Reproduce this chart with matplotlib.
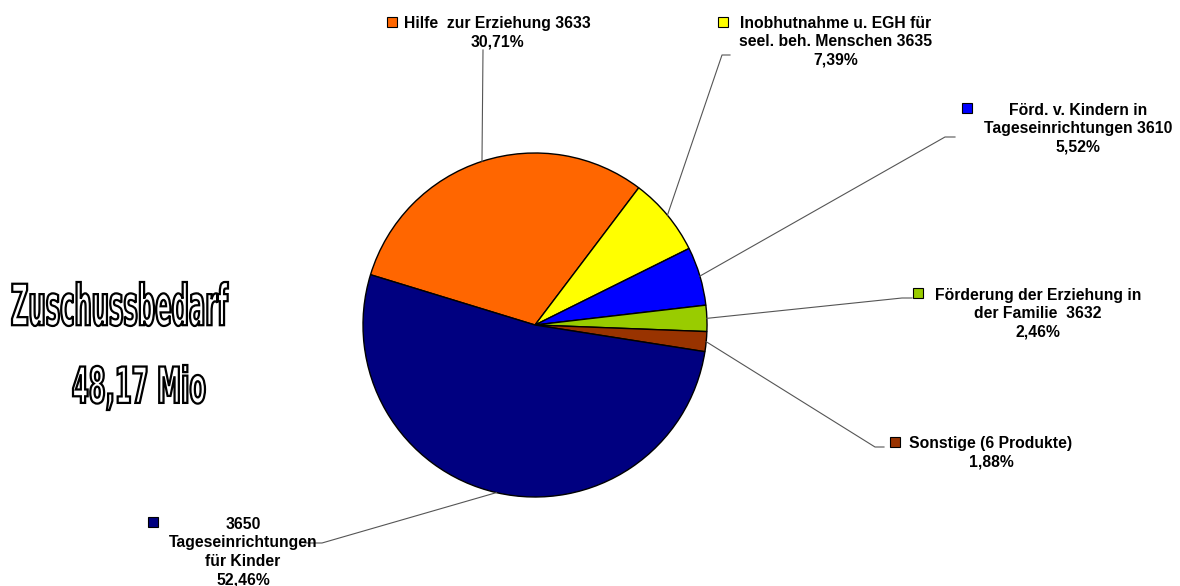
import matplotlib
matplotlib.use("Agg")
import numpy as np
import matplotlib.pyplot as plt
from matplotlib.textpath import TextPath
from matplotlib.patches import PathPatch
from matplotlib.font_manager import FontProperties, findfont
from matplotlib.transforms import Affine2D

# data
labels = [
    "Hilfe  zur Erziehung 3633",
    "Inobhutnahme u. EGH für\nseel. beh. Menschen 3635",
    "Förd. v. Kindern in\nTageseinrichtungen 3610",
    "Förderung der Erziehung in\nder Familie  3632",
    "Sonstige (6 Produkte)",
    "3650\nTageseinrichtungen\nfür Kinder",
]
shares = [30.71, 7.39, 5.52, 2.46, 1.88, 52.46]
colors = ["#FF6600", "#FFFF00", "#0000FF", "#99CC00", "#993300", "#000080"]
title_lines = ["Zuschussbedarf", "48,17 Mio"]

W, H = 1180, 586
fig = plt.figure(figsize=(W / 100, H / 100), dpi=100)
ax = fig.add_axes([0, 0, 1, 1])


def Y(y):
    # image pixel row -> data y
    return H - y


cx, cy, r = 535, Y(325), 172
start = 163
wedges, _ = ax.pie(shares, colors=colors, startangle=start, counterclock=False,
                   center=(cx, cy), radius=r, frame=True,
                   wedgeprops=dict(edgecolor="black", linewidth=1.0))
ax.set_xlim(0, W)
ax.set_ylim(0, H)
ax.set_aspect("equal")
ax.axis("off")

# label layout: (text center x, block center y, marker x, marker y, leader end points)
label_pos = [
    (497, 32.5, 392, 22, [(483, 50)]),
    (836, 42, 723, 22, [(722, 55), (730, 55)]),
    (1078, 129, 967, 108, [(945, 137), (955, 137)]),
    (1038, 314, 918, 293, [(902, 298), (912, 298)]),
    (991, 453, 895, 442, [(875, 447), (884, 447)]),
    (243, 552, 153, 522, [(322, 543), (305, 543)]),
]

for w, lab, val, col, (tx, ty, mx, my, pts) in zip(wedges, labels, shares, colors, label_pos):
    mid = np.deg2rad((w.theta1 + w.theta2) / 2)
    x0, y0 = cx + r * np.cos(mid), cy + r * np.sin(mid)
    xs = [x0] + [p[0] for p in pts]
    ys = [y0] + [Y(p[1]) for p in pts]
    ax.plot(xs, ys, color="#555555", lw=0.8, zorder=1)
    txt = lab + "\n" + f"{val:.2f}".replace(".", ",") + "%"
    ax.text(tx, Y(ty), txt, ha="center", va="center", fontsize=11.3,
            fontweight="bold", family=["Liberation Sans", "DejaVu Sans"],
            linespacing=1.28, zorder=3)
    ax.plot(mx, Y(my), marker="s", ms=6.5, mfc=col, mec="black", mew=0.8, zorder=3)

# outlined condensed title, scaled to the box it fills in the picture
try:
    fp = FontProperties(family="Liberation Sans Narrow", weight="bold")
    findfont(fp, fallback_to_default=False)
except Exception:
    fp = FontProperties(family="DejaVu Sans", weight="bold")

boxes = [(12, 228, 282, 326), (73, 205, 365, 410)]
for line, (x1, x2, y1, y2) in zip(title_lines, boxes):
    tp = TextPath((0, 0), line, size=100, prop=fp)
    ext = tp.get_extents()
    sx = (x2 - x1) / ext.width
    sy = (y2 - y1) / ext.height
    tr = Affine2D().translate(-ext.x0, -ext.y0).scale(sx, sy).translate(x1, Y(y2))
    ax.add_patch(PathPatch(tr.transform_path(tp), facecolor="white",
                           edgecolor="black", lw=1.6, zorder=3))

fig.savefig("out.png", dpi=100)
